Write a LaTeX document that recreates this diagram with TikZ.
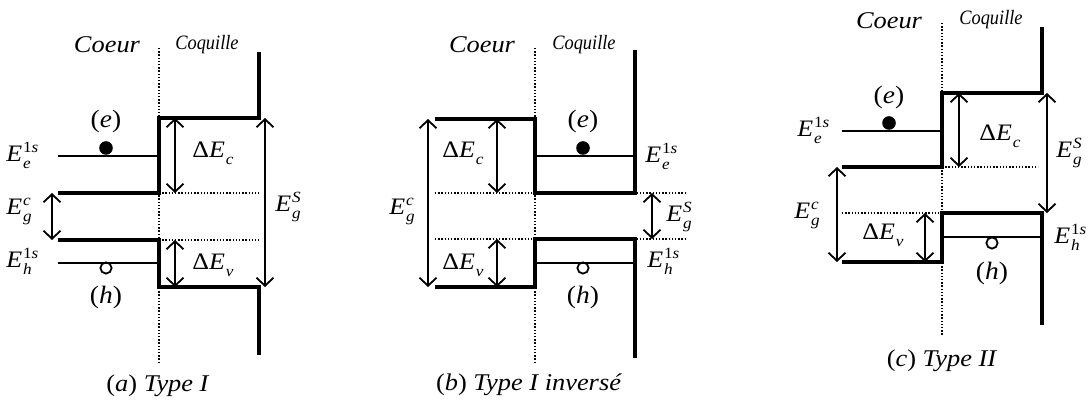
\documentclass[tikz,border=0pt]{standalone}
\usepackage{fontspec}
\setmainfont{Liberation Serif}[FakeStretch=1.1]
\newfontfamily\shellfont{Liberation Serif}[FakeStretch=0.9]
\usetikzlibrary{arrows.meta}

% E with stacked sub- and superscript (text mode)
\newcommand\bandlbl[3]{%
  \setbox0\hbox{\fontsize{7.8}{9}\selectfont #3}%
  \setbox2\hbox{\fontsize{7.8}{9}\selectfont\itshape #2}%
  #1\kern0.4pt\raisebox{0.9ex}{\copy0}\kern-\wd0\raisebox{-0.6ex}{\copy2}%
  \ifdim\wd0>\wd2 \kern\dimexpr\wd0-\wd2\relax\fi}
\newcommand\Elvl[2]{\bandlbl{\textit{E}}{#1}{#2}}
\newcommand\dE[1]{\bandlbl{Δ\textit{E}}{#1}{}}

\begin{document}
\begin{tikzpicture}[x=0.5pt,y=-0.5pt,
    band/.style={line width=1.6pt},
    level/.style={line width=0.85pt},
    guide/.style={line width=0.65pt, dash pattern=on 0.7pt off 0.9pt},
    gaparrow/.style={line width=0.9pt,
      {Straight Barb[length=4pt,width=8.5pt]}-{Straight Barb[length=4pt,width=8.5pt]}},
    lbl/.style={anchor=base west, inner sep=0pt, font=\fontsize{11.8}{13}\selectfont},
    region/.style={anchor=base, inner sep=0pt, font=\fontsize{12}{14}\selectfont\itshape},
    shell/.style={anchor=base, inner sep=0pt, font=\fontsize{10.2}{12}\selectfont\shellfont\itshape},
    carrier/.style={inner sep=0pt, font=\fontsize{12.5}{14}\selectfont},
    caption/.style={anchor=base, inner sep=0pt, font=\fontsize{12}{14}\selectfont}]
  \useasboundingbox (0,0) rectangle (1089,405);

  % ---------- (a) Type I ----------
  \draw[guide] (159,48) -- (159,362);
  \draw[band] (259,52) -- (259,118) -- (159,118) -- (159,193) -- (58,193);
  \draw[band] (58,240) -- (159,240) -- (159,287) -- (259,287) -- (259,355);
  \draw[level] (58,156) -- (159,156);
  \draw[level] (58,263) -- (159,263);
  \draw[guide] (159,193) -- (259,193);
  \draw[guide] (159,240) -- (259,240);
  \fill (106,148) circle (3.4pt);
  \draw[line width=0.9pt] (106,268) circle (2.8pt);
  \draw[gaparrow] (175,118) -- (175,193);
  \draw[gaparrow] (175,240) -- (175,287);
  \draw[gaparrow] (265,118) -- (265,287);
  \draw[gaparrow] (52,193) -- (52,240);
  \node[region] (coeurA) at (107,53) {Coeur};
  \node[shell] (coqA) at (207,50) {Coquille};
  \node[carrier] (elA) at (106,121) {(\textit{e})};
  \node[carrier] (hoA) at (106,297) {(\textit{h})};
  \node[lbl] (eeA) at (6,162) {\Elvl{e}{1\textit{s}}};
  \node[lbl] (egcA) at (6,215) {\Elvl{g}{\textit{c}}};
  \node[lbl] (ehA) at (6,268) {\Elvl{h}{1\textit{s}}};
  \node[lbl] (dEcA) at (192,158) {\dE{c}};
  \node[lbl] (dEvA) at (192,270) {\dE{v}};
  \node[lbl] (egsA) at (275,212) {\Elvl{g}{\textit{S}}};
  \node[caption] (capA) at (158,392) {(\textit{a}) \textit{Type I}};

  % ---------- (b) Type I inverse ----------
  \draw[guide] (535,48) -- (535,362);
  \draw[band] (435,119) -- (535,119) -- (535,193) -- (635,193) -- (635,50);
  \draw[band] (635,358) -- (635,239) -- (535,239) -- (535,287) -- (435,287);
  \draw[level] (535,156) -- (635,156);
  \draw[level] (535,263) -- (635,263);
  \draw[guide] (435,193) -- (685,193);
  \draw[guide] (435,239) -- (685,239);
  \fill (583,148) circle (3.4pt);
  \draw[line width=0.9pt] (583,268) circle (2.8pt);
  \draw[gaparrow] (497,119) -- (497,193);
  \draw[gaparrow] (497,239) -- (497,287);
  \draw[gaparrow] (428,119) -- (428,287);
  \draw[gaparrow] (652,193) -- (652,239);
  \node[region] (coeurB) at (482,53) {Coeur};
  \node[shell] (coqB) at (584,50) {Coquille};
  \node[carrier] (elB) at (583,121) {(\textit{e})};
  \node[carrier] (hoB) at (583,297) {(\textit{h})};
  \node[lbl] (eeB) at (645,163) {\Elvl{e}{1\textit{s}}};
  \node[lbl] (egsB) at (666,222) {\Elvl{g}{\textit{S}}};
  \node[lbl] (ehB) at (647,268) {\Elvl{h}{1\textit{s}}};
  \node[lbl] (dEcB) at (442,158) {\dE{c}};
  \node[lbl] (dEvB) at (442,270) {\dE{v}};
  \node[lbl] (egcB) at (389,215) {\Elvl{g}{\textit{c}}};
  \node[caption] (capB) at (529,391) {(\textit{b}) \textit{Type I inversé}};

  % ---------- (c) Type II ----------
  \draw[guide] (942,23) -- (942,335);
  \draw[band] (1042,27) -- (1042,93) -- (942,93) -- (942,167) -- (842,167);
  \draw[band] (1042,325) -- (1042,213) -- (942,213) -- (942,262) -- (842,262);
  \draw[level] (842,131) -- (942,131);
  \draw[level] (942,237) -- (1042,237);
  \draw[guide] (942,167) -- (1038,167);
  \draw[guide] (842,213) -- (942,213);
  \fill (889,123) circle (3.4pt);
  \draw[line width=0.9pt] (992,243) circle (2.8pt);
  \draw[gaparrow] (959,93) -- (959,167);
  \draw[gaparrow] (1047,93) -- (1047,213);
  \draw[gaparrow] (837,167) -- (837,262);
  \draw[gaparrow] (925,213) -- (925,262);
  \node[region] (coeurC) at (889,29) {Coeur};
  \node[shell] (coqC) at (991,25) {Coquille};
  \node[carrier] (elC) at (889,97) {(\textit{e})};
  \node[carrier] (hoC) at (992,273) {(\textit{h})};
  \node[lbl] (eeC) at (797,137) {\Elvl{e}{1\textit{s}}};
  \node[lbl] (egcC) at (794,219) {\Elvl{g}{\textit{c}}};
  \node[lbl] (dEcC) at (979,141) {\dE{c}};
  \node[lbl] (dEvC) at (862,240) {\dE{v}};
  \node[lbl] (egsC) at (1056,158) {\Elvl{g}{\textit{S}}};
  \node[lbl] (ehC) at (1054,244) {\Elvl{h}{1\textit{s}}};
  \node[caption] (capC) at (942,367) {(\textit{c}) \textit{Type II}};
\end{tikzpicture}
\end{document}
